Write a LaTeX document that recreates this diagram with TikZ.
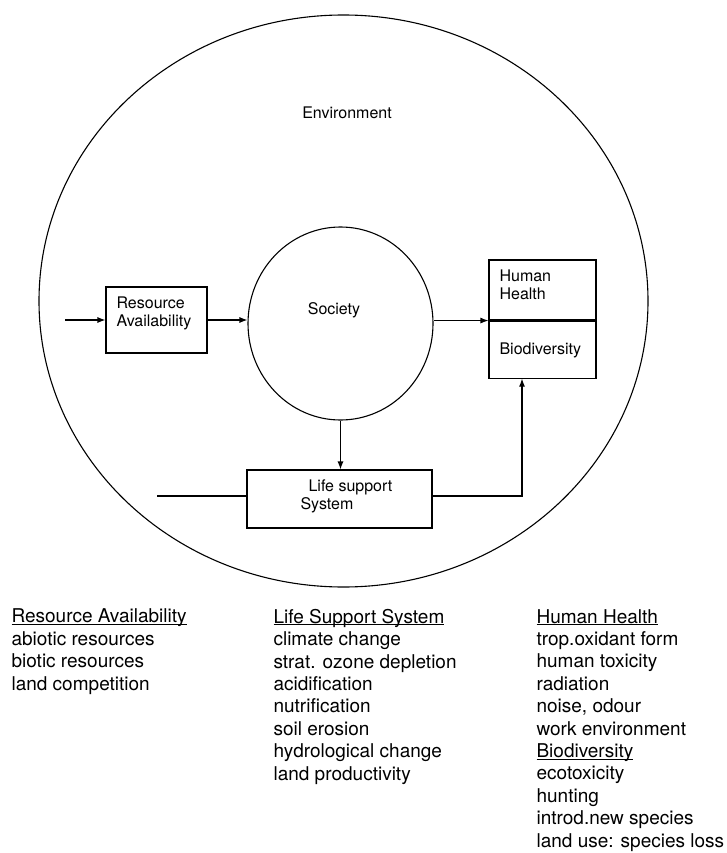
\documentclass[tikz,border=0pt]{standalone}
\usepackage{fontspec}
\setmainfont{TeX Gyre Heros}
\usetikzlibrary{shapes.geometric,arrows.meta,positioning}
\newcommand{\hdr}[1]{\setbox0\hbox{#1}\rlap{\rule[-2pt]{\wd0}{0.9pt}}\box0}

\begin{document}
\begin{tikzpicture}[x = 1pt, y = -1pt, line width = 1.1pt,
	box/.style = {draw, rectangle, inner sep = 0pt},
	oval/.style = {draw, ellipse, inner sep = 0pt},
	arr/.style = {-{Latex[length = 8pt, width = 6pt]}},
	lbl/.style = {font = \fontsize{16}{17.5}\selectfont, align = left, inner sep = 0pt, anchor = base west},
	lst/.style = {font = \fontsize{19}{22.4}\selectfont, align = left, inner sep = 0pt, anchor = base west}]
	\useasboundingbox (0, 0) rectangle (727, 853);
	% environment and society
	\node[oval, minimum width = 609, minimum height = 572] (env) at (343.5, 301) {};
	\node[lbl, anchor = base] (envlbl) at (347, 119) {Environment};
	\node[oval, minimum width = 185, minimum height = 193] (soc) at (340.5, 323.5) {};
	\node[lbl, anchor = base] (soclbl) at (334, 314) {Society};
	% boxes (multi-line labels sit on their last baseline)
	\node[box, minimum width = 101, minimum height = 66] (ra) at (156.5, 320) {};
	\node[lbl] (ralbl) at (116, 326) {Resource\\Availability};
	\node[box, minimum width = 107, minimum height = 60] (hh) at (542.5, 290) {};
	\node[box, minimum width = 107, minimum height = 57, below = 0pt of hh] (bio) {};
	\node[lbl] (hhlbl) at (499, 299) {Human\\Health};
	\node[lbl] (biolbl) at (499, 354) {Biodiversity};
	\node[box, minimum width = 185, minimum height = 58] (lss) at (339.5, 499) {};
	\node[lbl] (lsslbl) at (308, 491) {Life support};
	\node[lbl] (lsslblb) at (300, 509) {System};
	% connectors
	\coordinate (rain) at (65, 320);
	\coordinate (lssin) at (157, 496);
	\coordinate (bend) at (522, 496);
	\draw[arr] (rain) -- (ra.west);
	\draw[arr] (ra.east) -- (ra.east -| soc.west);
	\draw[arr] (soc.east |- hh.south west) -- (hh.south west);
	\draw[arr] (soc.south) -- (soc.south |- lss.north);
	\draw (lssin) -- (lssin -| lss.west);
	\draw[arr] (lss.east |- bend) -- (bend) -- (bend |- bio.south);
	% impact lists
	\node[lst] (ralist) at (11, 690) {\hdr{Resource Availability}\\abiotic resources\\biotic resources\\land competition};
	\node[lst] (lsslist) at (273, 780) {\hdr{Life Support System}\\climate change\\strat. ozone depletion\\acidification\\nutrification\\soil erosion\\hydrological change\\land productivity};
	\node[lst] (hhlist) at (536, 847) {\hdr{Human Health}\\trop.oxidant form\\human toxicity\\radiation\\noise, odour\\work environment\\\hdr{Biodiversity}\\ecotoxicity\\hunting\\introd.new species\\land use: species loss};
\end{tikzpicture}
\end{document}
